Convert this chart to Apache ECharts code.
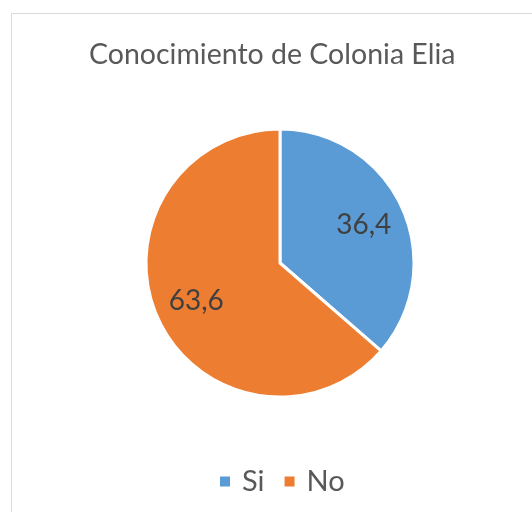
<!DOCTYPE html>
<html>
<head>
<meta charset="utf-8">
<script src="https://cdn.jsdelivr.net/npm/echarts@6/dist/echarts.min.js"></script>
<style>
  html, body { margin: 0; padding: 0; background: #fff; }
  #main { width: 532px; height: 512px; }
</style>
</head>
<body>
<div id="main"></div>
<script>
const titleText = 'Conocimiento de Colonia Elia';
const categories = ['Si', 'No'];
const values = [36.4, 63.6];
const colors = ['#5B9BD5', '#ED7D31'];

const fontFam = 'Lato, "Open Sans", sans-serif';
const pieData = categories.map((c, i) => ({ name: c, value: values[i] }));

const chart = echarts.init(document.getElementById('main'));
chart.setOption({
  animation: false,
  color: colors,
  title: {
    text: titleText,
    left: 84,
    top: 35,
    textStyle: { fontFamily: fontFam, fontSize: 28.5, fontWeight: 'normal', color: '#595959' }
  },
  legend: {
    data: categories,
    left: 213,
    top: 462,
    icon: 'rect',
    itemWidth: 12,
    itemHeight: 12,
    itemGap: 18,
    textStyle: { fontFamily: fontFam, fontSize: 29, color: '#595959', padding: [0, 0, 0, 6] }
  },
  graphic: [{
    type: 'rect',
    shape: { x: 11.5, y: 13.5, width: 600, height: 600 },
    style: { fill: 'none', stroke: '#d9d9d9', lineWidth: 1 },
    silent: true
  }],
  series: [
    {
      type: 'pie',
      center: [280, 263],
      radius: [0, 134],
      startAngle: 90,
      itemStyle: { borderColor: '#fff', borderWidth: 3 },
      label: { show: false },
      labelLine: { show: false },
      emphasis: { disabled: true },
      data: pieData
    },
    {
      type: 'pie',
      center: [280, 263],
      radius: [44, 134],
      startAngle: 90,
      silent: true,
      itemStyle: { color: 'transparent', borderWidth: 0 },
      label: {
        show: true,
        position: 'inside',
        formatter: p => String(p.value).replace('.', ','),
        fontFamily: fontFam,
        fontSize: 28,
        color: '#404040'
      },
      labelLine: { show: false },
      emphasis: { disabled: true },
      data: pieData
    }
  ]
});
</script>
</body>
</html>
